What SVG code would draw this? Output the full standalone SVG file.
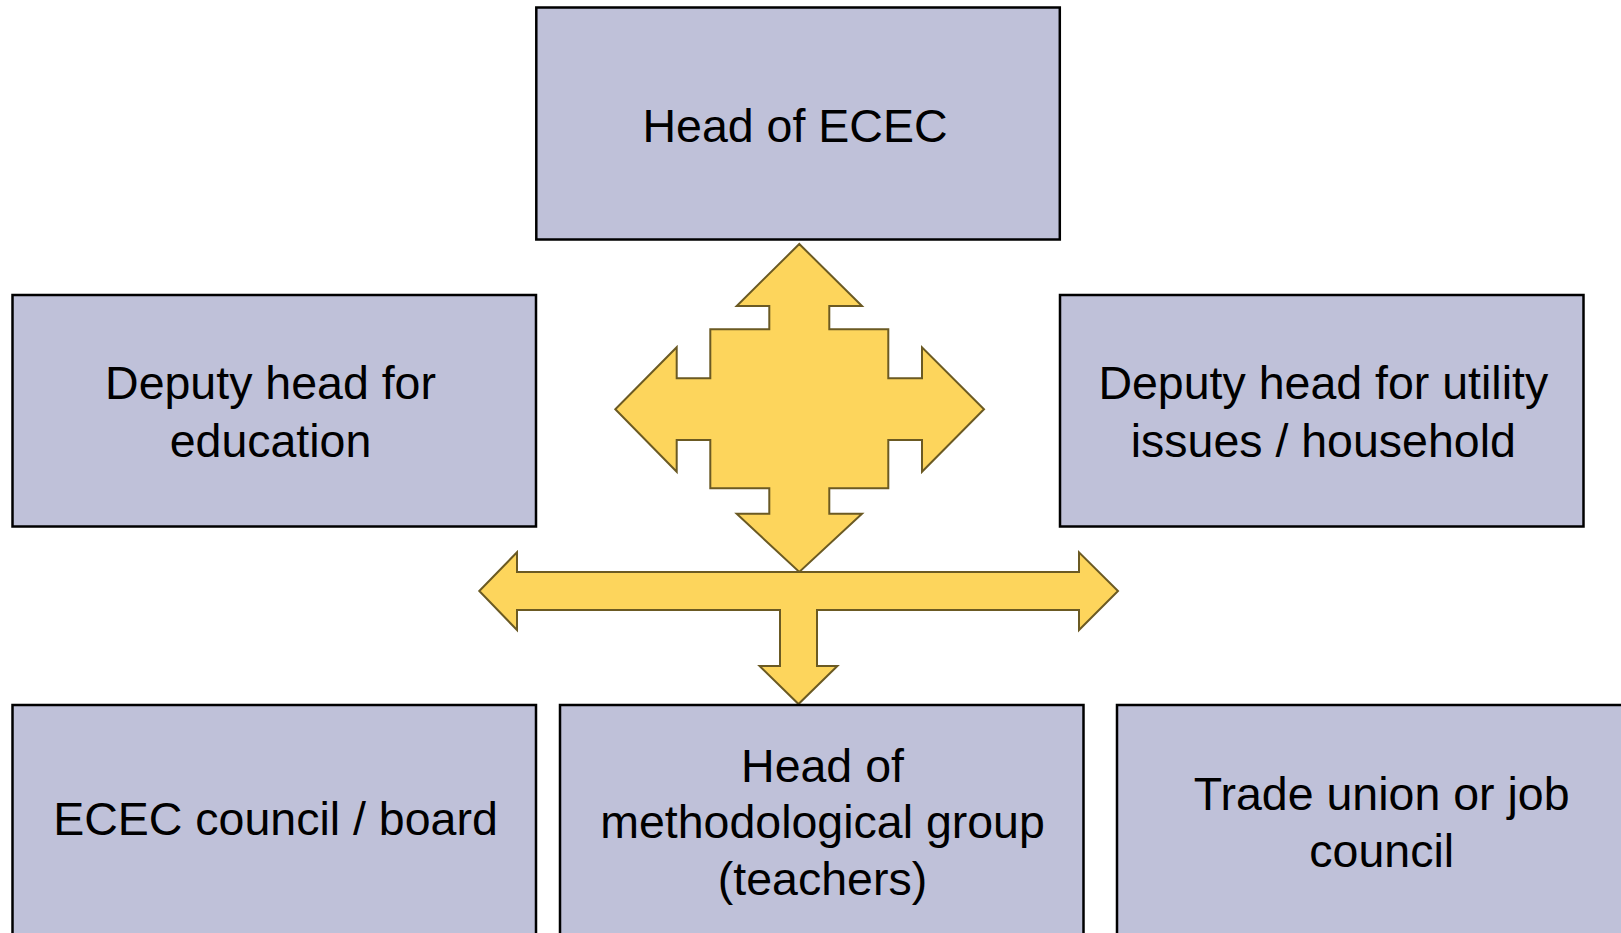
<svg xmlns="http://www.w3.org/2000/svg" width="1621" height="933" viewBox="0 0 1621 933">
  <style>
    .box { fill: #bfc1d9; stroke: #000000; stroke-width: 2.5; }
    .lbl { font-family: "Liberation Sans", Arial, sans-serif; font-size: 46.5px; fill: #000000; text-anchor: middle; }
    .arrow { fill: #fdd55c; stroke: #6b5a23; stroke-width: 2; stroke-linejoin: miter; }
  </style>
  <rect width="1621" height="933" fill="#ffffff"/>

  <g id="connectors">
    <!-- four-way arrow between the head and the two deputies -->
    <path class="arrow" d="M799.3,244 L862,306 L829.3,306 L829.3,329.3 L888.3,329.3 L888.3,378.3 L922,378.3 L922,347.3 L984,409.3 L922,471.7 L922,440 L888.3,440 L888.3,488.3 L829.3,488.3 L829.3,513.7 L862,513.7 L799.3,572 L736.7,513.7 L769.3,513.7 L769.3,488.3 L710.3,488.3 L710.3,440 L676.7,440 L676.7,471.7 L615.3,409.3 L676.7,347.3 L676.7,378.3 L710.3,378.3 L710.3,329.3 L769.3,329.3 L769.3,306 L736.7,306 Z"/>
    <!-- three-way arrow down to the lower row -->
    <path class="arrow" d="M479.3,591 L517,552.3 L517,572 L1079,572 L1079,552.3 L1118,591 L1079,630 L1079,610 L817,610 L817,666 L837.4,666 L798.5,704 L759.6,666 L780,666 L780,610 L517,610 L517,630 Z"/>
  </g>

  <g id="head-ecec">
    <rect class="box" x="536.3" y="7.5" width="523.5" height="232"/>
    <text class="lbl" x="795" y="141.7">Head of ECEC</text>
  </g>

  <g id="deputy-education">
    <rect class="box" x="12.5" y="295" width="523.5" height="231.5"/>
    <text class="lbl" x="270.5" y="399.3">Deputy head for</text>
    <text class="lbl" x="270.5" y="457.3">education</text>
  </g>

  <g id="deputy-utility">
    <rect class="box" x="1060" y="295" width="523.5" height="231.5"/>
    <text class="lbl" x="1323.3" y="399.3">Deputy head for utility</text>
    <text class="lbl" x="1323.3" y="457.3">issues / household</text>
  </g>

  <g id="ecec-council">
    <rect class="box" x="12.5" y="705" width="523.5" height="260"/>
    <text class="lbl" x="275.5" y="835">ECEC council / board</text>
  </g>

  <g id="methodological-group">
    <rect class="box" x="560" y="705" width="523.5" height="260"/>
    <text class="lbl" x="822.5" y="781.7">Head of</text>
    <text class="lbl" x="822.5" y="838.3">methodological group</text>
    <text class="lbl" x="822.5" y="895">(teachers)</text>
  </g>

  <g id="trade-union">
    <rect class="box" x="1117" y="705" width="523.5" height="260"/>
    <text class="lbl" x="1381.7" y="810">Trade union or job</text>
    <text class="lbl" x="1381.7" y="866.7">council</text>
  </g>
</svg>
